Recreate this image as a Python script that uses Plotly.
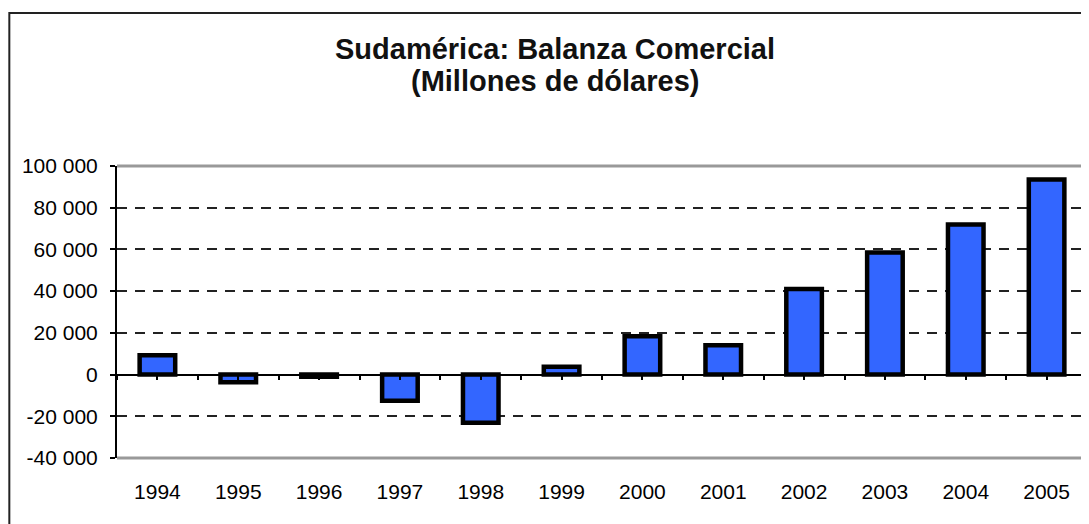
import plotly.graph_objects as go

years = ["1994", "1995", "1996", "1997", "1998", "1999", "2000", "2001", "2002", "2003", "2004", "2005"]
balanza = [9300, -3700, -1100, -12500, -23100, 3800, 18400, 14100, 41000, 58500, 72000, 93500]
y_ticks = [-40000, -20000, 0, 20000, 40000, 60000, 80000, 100000]
y_tick_labels = ["-40 000", "-20 000", "0", "20 000", "40 000", "60 000", "80 000", "100 000"]
title_line1 = "Sudamérica: Balanza Comercial"
title_line2 = "(Millones de dólares)"

idx = list(range(len(years)))
half_ticks = [i * 0.5 - 0.5 for i in range(2 * len(years) + 1)]
y_min, y_max = y_ticks[0], y_ticks[-1]

fig = go.Figure()
fig.add_trace(go.Bar(
    x=idx, y=balanza, width=0.44,
    marker=dict(color="#3366FF", line=dict(color="black", width=4.5)),
    hoverinfo="skip", showlegend=False,
))
fig.add_trace(go.Scatter(
    x=idx, y=balanza, xaxis="x2", mode="markers",
    marker=dict(opacity=0), hoverinfo="skip", showlegend=False,
))

font_family = "Liberation Sans, Arial, sans-serif"

# the page body has an 8px default margin, so the figure is 8px smaller
fig.update_layout(
    width=1081, height=516,
    margin=dict(l=109, r=2, t=158, b=66),
    paper_bgcolor="white", plot_bgcolor="white",
    showlegend=False,
    font=dict(family=font_family, color="black"),
    xaxis=dict(
        range=[-0.5, len(years) - 0.5],
        tickvals=idx, ticktext=years,
        showgrid=False, zeroline=False, showline=False,
        ticks="outside", ticklen=0, tickcolor="white",
        ticklabelstandoff=15,
        tickfont=dict(size=21, family=font_family, color="black"),
        fixedrange=True,
    ),
    xaxis2=dict(
        overlaying="x", anchor="free",
        position=(0 - y_min) / (y_max - y_min),
        range=[-0.5, len(years) - 0.5],
        tickvals=half_ticks,
        ticks="outside", ticklen=4, tickwidth=1.5, tickcolor="black",
        showticklabels=False, showline=False, showgrid=False, zeroline=False,
        fixedrange=True,
    ),
    yaxis=dict(
        range=[y_min, y_max],
        tickvals=y_ticks, ticktext=y_tick_labels,
        ticks="outside", ticklen=5, tickwidth=2, tickcolor="black",
        ticklabelstandoff=8,
        showline=True, linecolor="black", linewidth=2,
        showgrid=True, gridcolor="#222222", gridwidth=2, griddash="10px,8px",
        zeroline=True, zerolinecolor="black", zerolinewidth=2,
        tickfont=dict(size=21, family=font_family, color="black"),
        fixedrange=True,
    ),
    shapes=[
        dict(type="line", xref="paper", yref="paper", x0=0, x1=1, y0=1, y1=1,
             line=dict(color="#999999", width=3), layer="above"),
        dict(type="line", xref="paper", yref="paper", x0=1, x1=1, y0=0, y1=1,
             line=dict(color="#999999", width=3), layer="above"),
        dict(type="line", xref="paper", yref="paper", x0=0, x1=1, y0=0, y1=0,
             line=dict(color="#999999", width=3), layer="above"),
        dict(type="rect", xref="paper", yref="paper", x0=-0.111, x1=1.3, y0=-0.8, y1=1.524,
             line=dict(color="#222222", width=2), layer="above"),
    ],
    annotations=[
        dict(text="<b>" + title_line1 + "</b>", xref="paper", yref="paper",
             x=0.4515, y=1.402, xanchor="center", yanchor="middle", showarrow=False,
             font=dict(size=29, family=font_family, color="#111111")),
        dict(text="<b>" + title_line2 + "</b>", xref="paper", yref="paper",
             x=0.4515, y=1.290, xanchor="center", yanchor="middle", showarrow=False,
             font=dict(size=29, family=font_family, color="#111111")),
    ],
)

fig.write_html("out.html")
